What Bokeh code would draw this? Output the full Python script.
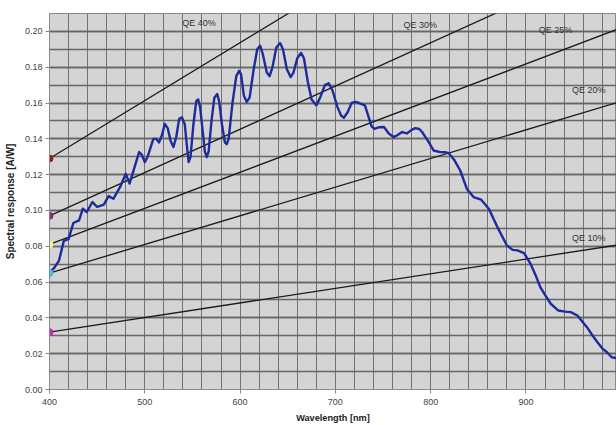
from bokeh.plotting import figure
from bokeh.models import FixedTicker, Range1d, ColumnDataSource, CustomJSTickFormatter
from bokeh.core.properties import value
from bokeh.embed import file_html
from bokeh.resources import INLINE

# Measured spectral response curve
wavelength = [400, 405, 410, 415, 420, 425, 431, 435, 439, 445, 450, 457, 462, 467, 474, 480,
              484, 488, 494, 497, 500, 503, 509, 512, 515, 518, 521, 524, 527, 530, 533, 536,
              539, 542, 544, 546, 548, 551, 554, 556, 558, 561, 563, 565, 567, 570, 573, 576,
              578, 581, 584, 586, 588, 592, 596, 599, 601, 604, 607, 610, 614, 618, 621, 624,
              628, 631, 634, 638, 642, 645, 649, 653, 656, 660, 664, 667, 671, 675, 680, 684,
              689, 693, 697, 702, 706, 709, 713, 717, 721, 725, 731, 735, 738, 741, 746, 751,
              756, 761, 765, 770, 775, 780, 784, 788, 791, 797, 803, 810, 815, 819, 825, 831,
              838, 845, 853, 861, 870, 880, 886, 891, 898, 905, 910, 915, 921, 926, 934, 941,
              947, 954, 959, 964, 970, 975, 980, 985, 990, 1000]
response = [0.065, 0.068, 0.072, 0.083, 0.084, 0.093, 0.0945, 0.101, 0.099, 0.1047, 0.102, 0.1033,
            0.108, 0.1065, 0.113, 0.1205, 0.115, 0.122, 0.1326, 0.131, 0.127, 0.130, 0.140, 0.140,
            0.138, 0.142, 0.1484, 0.146, 0.139, 0.1354, 0.141, 0.151, 0.152, 0.148, 0.137, 0.127,
            0.130, 0.148, 0.161, 0.162, 0.158, 0.143, 0.133, 0.1298, 0.133, 0.150, 0.163, 0.165,
            0.161, 0.148, 0.138, 0.137, 0.140, 0.160, 0.175, 0.178, 0.176, 0.164, 0.1606, 0.163,
            0.178, 0.190, 0.192, 0.187, 0.177, 0.175, 0.180, 0.191, 0.1935, 0.190, 0.179, 0.1745,
            0.177, 0.185, 0.188, 0.185, 0.172, 0.162, 0.1587, 0.163, 0.170, 0.171, 0.167, 0.158,
            0.153, 0.1518, 0.155, 0.160, 0.1606, 0.160, 0.1587, 0.152, 0.147, 0.1456, 0.1465,
            0.1466, 0.143, 0.141, 0.142, 0.1438, 0.143, 0.145, 0.146, 0.1455, 0.1438, 0.139,
            0.1335, 0.1326, 0.1325, 0.132, 0.128, 0.1223, 0.112, 0.1075, 0.106, 0.101, 0.0907,
            0.0804, 0.078, 0.0777, 0.0762, 0.070, 0.064, 0.0572, 0.052, 0.0479, 0.0441, 0.0435,
            0.0432, 0.0413, 0.038, 0.0348, 0.030, 0.0264, 0.023, 0.0208, 0.018, 0.017]

# Constant quantum-efficiency reference lines (responsivity at 400 nm and 1000 nm)
qe_labels = ["QE 40%", "QE 30%", "QE 25%", "QE 20%", "QE 10%"]
qe_r400 = [0.129, 0.097, 0.081, 0.065, 0.032]
qe_r1000 = [0.323, 0.242, 0.202, 0.161, 0.081]
qe_colors = ["#9b1c1c", "#8e2a6e", "#f4f0a0", "#3cc8d0", "#cc22cc"]
qe_label_x = [557, 789, 931, 966, 966]
qe_label_y = [0.2045, 0.2035, 0.2008, 0.1672, 0.0845]

x_ticks = [400, 500, 600, 700, 800, 900, 1000]
x_minor = list(range(400, 1001, 20))
y_ticks = [0.00, 0.02, 0.04, 0.06, 0.08, 0.10, 0.12, 0.14, 0.16, 0.18, 0.20]
y_minor = [i / 100 for i in range(0, 22)]

p = figure(width=616, height=425, output_backend="svg", toolbar_location=None,
           x_range=Range1d(400, 995), y_range=Range1d(0, 0.21),
           min_border_left=49, min_border_right=0, min_border_top=13, min_border_bottom=36)
p.background_fill_color = "#d4d4d4"
p.border_fill_color = "white"
p.outline_line_color = "#8a8a8a"
p.outline_line_width = 1

p.xaxis.ticker = FixedTicker(ticks=x_ticks, minor_ticks=x_minor)
p.yaxis.ticker = FixedTicker(ticks=y_ticks, minor_ticks=y_minor)
p.yaxis.formatter = CustomJSTickFormatter(code="return tick.toFixed(2);")

for ax in (p.xaxis[0], p.yaxis[0]):
    ax.axis_line_color = "#8a8a8a"
    ax.major_tick_line_color = "#8a8a8a"
    ax.major_tick_out = 4
    ax.major_tick_in = 0
    ax.minor_tick_line_color = None
    ax.major_label_text_font = "Liberation Sans"
    ax.major_label_text_font_size = "9px"
    ax.major_label_text_color = "#444444"
    ax.axis_label_text_font = "Liberation Sans"
    ax.axis_label_text_font_style = "bold"
    ax.axis_label_text_color = "#222222"

p.xaxis.axis_label = "Wavelength [nm]"
p.yaxis.axis_label = "Spectral response [A/W]"
p.xaxis.axis_label_text_font_size = "9.2px"
p.yaxis.axis_label_text_font_size = "10px"
p.xaxis.major_label_standoff = 5
p.xaxis.axis_label_standoff = 5
p.yaxis.major_label_standoff = 3
p.yaxis.axis_label_standoff = 6

p.xgrid.grid_line_color = "#727272"
p.xgrid.grid_line_width = 1
p.xgrid.minor_grid_line_color = "#727272"
p.xgrid.minor_grid_line_width = 1
p.ygrid.grid_line_color = "#666666"
p.ygrid.grid_line_width = 1.3
p.ygrid.minor_grid_line_color = "#666666"
p.ygrid.minor_grid_line_width = 1.3

# QE lines
for r0, r1 in zip(qe_r400, qe_r1000):
    p.line([400, 1000], [r0, r1], line_color="#1a1a1a", line_width=1.3)

# Spectral response curve
p.line(wavelength, response, line_color="#1e2b9c", line_width=2.4, line_join="round")

# Start markers
p.scatter([400] * len(qe_r400), qe_r400, size=7, fill_color=qe_colors,
          line_color=qe_colors, marker="circle")

src = ColumnDataSource(dict(x=qe_label_x, y=qe_label_y, t=qe_labels))
p.text("x", "y", text="t", source=src, text_align="center", text_baseline="middle",
       text_font=value("Liberation Sans"), text_font_size="9px", text_color="#333333")

open("out.html", "w").write(file_html(p, INLINE))
